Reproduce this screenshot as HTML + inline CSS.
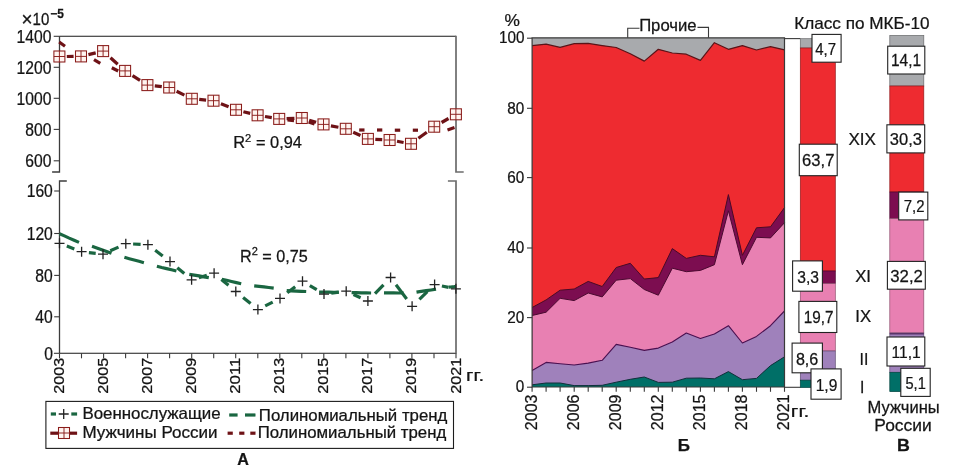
<!DOCTYPE html>
<html lang="ru"><head><meta charset="utf-8"><title>Chart</title>
<style>
html,body{margin:0;padding:0;background:#fff;}
body{width:955px;height:475px;overflow:hidden;}
svg{display:block;will-change:transform;font-family:"Liberation Sans",sans-serif;fill:#141414;}
svg text{fill:#141414;stroke:#141414;stroke-width:0.25px;}
</style></head><body>
<svg width="955" height="475" viewBox="0 0 955 475">
<rect x="0" y="0" width="955" height="475" fill="#ffffff"/>
<path d="M52.1,172.0 H59.5 V36.3" fill="none" stroke="#3c3c3c" stroke-width="1.3"/>
<path d="M59.5,36.3 H456.0" fill="none" stroke="#181818" stroke-width="1.05"/>
<path d="M456.0,35.8 V172.0 H463.7" fill="none" stroke="#6c6c6c" stroke-width="1.7"/>
<path d="M66.8,181.0 H59.5 V353.3" fill="none" stroke="#3c3c3c" stroke-width="1.3"/>
<path d="M59.5,353.3 H456.0" fill="none" stroke="#181818" stroke-width="1.05"/>
<path d="M447.9,181.0 H456.0 V353.8" fill="none" stroke="#6c6c6c" stroke-width="1.7"/>
<line x1="53.7" y1="36.3" x2="59.5" y2="36.3" stroke="#3a3a3a" stroke-width="1.1" />
<text transform="translate(16.59,42.60) scale(0.8800,1)" font-size="17.8">1400</text>
<line x1="53.7" y1="67.3" x2="59.5" y2="67.3" stroke="#3a3a3a" stroke-width="1.1" />
<text transform="translate(16.59,73.60) scale(0.8800,1)" font-size="17.8">1200</text>
<line x1="53.7" y1="98.3" x2="59.5" y2="98.3" stroke="#3a3a3a" stroke-width="1.1" />
<text transform="translate(16.59,104.60) scale(0.8800,1)" font-size="17.8">1000</text>
<line x1="53.7" y1="129.4" x2="59.5" y2="129.4" stroke="#3a3a3a" stroke-width="1.1" />
<text transform="translate(25.28,135.70) scale(0.8800,1)" font-size="17.8">800</text>
<line x1="53.7" y1="160.8" x2="59.5" y2="160.8" stroke="#3a3a3a" stroke-width="1.1" />
<text transform="translate(25.28,167.10) scale(0.8800,1)" font-size="17.8">600</text>
<line x1="54.2" y1="191.0" x2="59.5" y2="191.0" stroke="#3a3a3a" stroke-width="1.1" />
<text transform="translate(26.68,197.30) scale(0.8800,1)" font-size="17.8">160</text>
<line x1="54.2" y1="233.5" x2="59.5" y2="233.5" stroke="#3a3a3a" stroke-width="1.1" />
<text transform="translate(26.68,239.80) scale(0.8800,1)" font-size="17.8">120</text>
<line x1="54.2" y1="275.4" x2="59.5" y2="275.4" stroke="#3a3a3a" stroke-width="1.1" />
<text transform="translate(35.37,281.70) scale(0.8800,1)" font-size="17.8">80</text>
<line x1="54.2" y1="316.8" x2="59.5" y2="316.8" stroke="#3a3a3a" stroke-width="1.1" />
<text transform="translate(35.37,323.10) scale(0.8800,1)" font-size="17.8">40</text>
<line x1="53.9" y1="353.3" x2="59.5" y2="353.3" stroke="#3a3a3a" stroke-width="1.1" />
<text transform="translate(44.16,359.90) scale(0.8800,1)" font-size="17.8">0</text>
<line x1="59.5" y1="353.3" x2="59.5" y2="358.3" stroke="#3a3a3a" stroke-width="1.1" />
<text transform="translate(63.50,393.69) rotate(-90) scale(1.0504,1)" font-size="15.4">2003</text>
<line x1="81.5" y1="353.3" x2="81.5" y2="358.3" stroke="#3a3a3a" stroke-width="1.1" />
<line x1="103.6" y1="353.3" x2="103.6" y2="358.3" stroke="#3a3a3a" stroke-width="1.1" />
<text transform="translate(107.62,393.68) rotate(-90) scale(1.0464,1)" font-size="15.4">2005</text>
<line x1="125.6" y1="353.3" x2="125.6" y2="358.3" stroke="#3a3a3a" stroke-width="1.1" />
<line x1="147.6" y1="353.3" x2="147.6" y2="358.3" stroke="#3a3a3a" stroke-width="1.1" />
<text transform="translate(151.74,393.69) rotate(-90) scale(1.0504,1)" font-size="15.4">2007</text>
<line x1="169.6" y1="353.3" x2="169.6" y2="358.3" stroke="#3a3a3a" stroke-width="1.1" />
<line x1="191.7" y1="353.3" x2="191.7" y2="358.3" stroke="#3a3a3a" stroke-width="1.1" />
<text transform="translate(195.86,393.69) rotate(-90) scale(1.0504,1)" font-size="15.4">2009</text>
<line x1="213.7" y1="353.3" x2="213.7" y2="358.3" stroke="#3a3a3a" stroke-width="1.1" />
<line x1="235.7" y1="353.3" x2="235.7" y2="358.3" stroke="#3a3a3a" stroke-width="1.1" />
<text transform="translate(239.98,393.72) rotate(-90) scale(1.0877,1)" font-size="15.4">2011</text>
<line x1="257.8" y1="353.3" x2="257.8" y2="358.3" stroke="#3a3a3a" stroke-width="1.1" />
<line x1="279.8" y1="353.3" x2="279.8" y2="358.3" stroke="#3a3a3a" stroke-width="1.1" />
<text transform="translate(284.10,393.69) rotate(-90) scale(1.0504,1)" font-size="15.4">2013</text>
<line x1="301.8" y1="353.3" x2="301.8" y2="358.3" stroke="#3a3a3a" stroke-width="1.1" />
<line x1="323.8" y1="353.3" x2="323.8" y2="358.3" stroke="#3a3a3a" stroke-width="1.1" />
<text transform="translate(328.22,393.68) rotate(-90) scale(1.0464,1)" font-size="15.4">2015</text>
<line x1="345.9" y1="353.3" x2="345.9" y2="358.3" stroke="#3a3a3a" stroke-width="1.1" />
<line x1="367.9" y1="353.3" x2="367.9" y2="358.3" stroke="#3a3a3a" stroke-width="1.1" />
<text transform="translate(372.34,393.69) rotate(-90) scale(1.0504,1)" font-size="15.4">2017</text>
<line x1="389.9" y1="353.3" x2="389.9" y2="358.3" stroke="#3a3a3a" stroke-width="1.1" />
<line x1="411.9" y1="353.3" x2="411.9" y2="358.3" stroke="#3a3a3a" stroke-width="1.1" />
<text transform="translate(416.46,393.69) rotate(-90) scale(1.0504,1)" font-size="15.4">2019</text>
<line x1="434.0" y1="353.3" x2="434.0" y2="358.3" stroke="#3a3a3a" stroke-width="1.1" />
<line x1="456.0" y1="353.3" x2="456.0" y2="358.3" stroke="#3a3a3a" stroke-width="1.1" />
<text transform="translate(460.58,393.69) rotate(-90) scale(1.0504,1)" font-size="15.4">2021</text>
<text transform="translate(466.10,380.80) scale(1.2463,1)" font-size="16.3" font-weight="normal">гг.</text>
<text transform="translate(21.60,26.00) scale(0.9444,1)" font-size="20" font-weight="normal">×</text>
<text transform="translate(32.56,25.00) scale(0.9221,1)" font-size="16.3" font-weight="normal">10</text>
<text transform="translate(50.21,18.10) scale(0.9752,1)" font-size="12.2" font-weight="bold">−5</text>
<line x1="59.2" y1="42.0" x2="65.0" y2="46.2" stroke="#6e1216" stroke-width="3.2" />
<line x1="94.0" y1="59.6" x2="100.3" y2="63.4" stroke="#6e1216" stroke-width="3.2" />
<line x1="111.8" y1="67.8" x2="118.2" y2="71.0" stroke="#6e1216" stroke-width="3.2" />
<line x1="287.5" y1="120.0" x2="294.0" y2="120.6" stroke="#6e1216" stroke-width="3.2" />
<line x1="308.6" y1="122.0" x2="314.5" y2="124.0" stroke="#6e1216" stroke-width="3.2" />
<line x1="359.2" y1="130.0" x2="364.5" y2="130.0" stroke="#6e1216" stroke-width="3.2" />
<line x1="377.0" y1="130.0" x2="382.3" y2="130.0" stroke="#6e1216" stroke-width="3.2" />
<line x1="394.8" y1="130.2" x2="400.2" y2="130.2" stroke="#6e1216" stroke-width="3.2" />
<line x1="412.8" y1="130.2" x2="418.0" y2="130.2" stroke="#6e1216" stroke-width="3.2" />
<line x1="447.5" y1="130.0" x2="454.5" y2="127.6" stroke="#6e1216" stroke-width="3.2" />
<line x1="66.8" y1="56.5" x2="73.6" y2="56.4" stroke="#6e1216" stroke-width="3.2" />
<line x1="88.4" y1="54.6" x2="95.7" y2="52.9" stroke="#6e1216" stroke-width="3.2" />
<line x1="110.5" y1="57.8" x2="117.7" y2="64.2" stroke="#6e1216" stroke-width="3.2" />
<line x1="132.5" y1="75.6" x2="140.0" y2="80.4" stroke="#6e1216" stroke-width="3.2" />
<line x1="154.8" y1="85.9" x2="161.8" y2="86.7" stroke="#6e1216" stroke-width="3.2" />
<line x1="176.6" y1="91.2" x2="184.4" y2="95.1" stroke="#6e1216" stroke-width="3.2" />
<line x1="199.2" y1="99.4" x2="206.1" y2="100.1" stroke="#6e1216" stroke-width="3.2" />
<line x1="220.9" y1="103.7" x2="228.6" y2="106.8" stroke="#6e1216" stroke-width="3.2" />
<line x1="243.4" y1="111.7" x2="250.2" y2="113.4" stroke="#6e1216" stroke-width="3.2" />
<line x1="265.0" y1="116.5" x2="271.8" y2="117.7" stroke="#6e1216" stroke-width="3.2" />
<line x1="286.6" y1="118.6" x2="294.4" y2="118.3" stroke="#6e1216" stroke-width="3.2" />
<line x1="309.2" y1="120.2" x2="316.1" y2="122.2" stroke="#6e1216" stroke-width="3.2" />
<line x1="330.9" y1="125.9" x2="338.4" y2="127.3" stroke="#6e1216" stroke-width="3.2" />
<line x1="353.2" y1="132.2" x2="360.5" y2="135.5" stroke="#6e1216" stroke-width="3.2" />
<line x1="375.3" y1="139.3" x2="382.2" y2="139.6" stroke="#6e1216" stroke-width="3.2" />
<line x1="397.0" y1="141.3" x2="403.6" y2="142.5" stroke="#6e1216" stroke-width="3.2" />
<line x1="418.4" y1="138.3" x2="426.8" y2="132.2" stroke="#6e1216" stroke-width="3.2" />
<line x1="441.6" y1="122.5" x2="448.5" y2="118.5" stroke="#6e1216" stroke-width="3.2" />
<rect x="53.9" y="51.0" width="11.0" height="11.0" fill="#fff4f0" stroke="#8a1c1a" stroke-width="1.05"/>
<path d="M53.9,56.5 H64.9 M59.4,51.0 V62.0" stroke="#8a1c1a" stroke-width="0.95" fill="none"/>
<rect x="75.5" y="50.9" width="11.0" height="11.0" fill="#fff4f0" stroke="#8a1c1a" stroke-width="1.05"/>
<path d="M75.5,56.4 H86.5 M81.0,50.9 V61.9" stroke="#8a1c1a" stroke-width="0.95" fill="none"/>
<rect x="97.6" y="45.6" width="11.0" height="11.0" fill="#fff4f0" stroke="#8a1c1a" stroke-width="1.05"/>
<path d="M97.6,51.1 H108.6 M103.1,45.6 V56.6" stroke="#8a1c1a" stroke-width="0.95" fill="none"/>
<rect x="119.6" y="65.4" width="11.0" height="11.0" fill="#fff4f0" stroke="#8a1c1a" stroke-width="1.05"/>
<path d="M119.6,70.9 H130.6 M125.1,65.4 V76.4" stroke="#8a1c1a" stroke-width="0.95" fill="none"/>
<rect x="141.9" y="79.6" width="11.0" height="11.0" fill="#fff4f0" stroke="#8a1c1a" stroke-width="1.05"/>
<path d="M141.9,85.1 H152.9 M147.4,79.6 V90.6" stroke="#8a1c1a" stroke-width="0.95" fill="none"/>
<rect x="163.7" y="82.0" width="11.0" height="11.0" fill="#fff4f0" stroke="#8a1c1a" stroke-width="1.05"/>
<path d="M163.7,87.5 H174.7 M169.2,82.0 V93.0" stroke="#8a1c1a" stroke-width="0.95" fill="none"/>
<rect x="186.3" y="93.3" width="11.0" height="11.0" fill="#fff4f0" stroke="#8a1c1a" stroke-width="1.05"/>
<path d="M186.3,98.8 H197.3 M191.8,93.3 V104.3" stroke="#8a1c1a" stroke-width="0.95" fill="none"/>
<rect x="208.0" y="95.2" width="11.0" height="11.0" fill="#fff4f0" stroke="#8a1c1a" stroke-width="1.05"/>
<path d="M208.0,100.7 H219.0 M213.5,95.2 V106.2" stroke="#8a1c1a" stroke-width="0.95" fill="none"/>
<rect x="230.5" y="104.3" width="11.0" height="11.0" fill="#fff4f0" stroke="#8a1c1a" stroke-width="1.05"/>
<path d="M230.5,109.8 H241.5 M236.0,104.3 V115.3" stroke="#8a1c1a" stroke-width="0.95" fill="none"/>
<rect x="252.1" y="109.8" width="11.0" height="11.0" fill="#fff4f0" stroke="#8a1c1a" stroke-width="1.05"/>
<path d="M252.1,115.3 H263.1 M257.6,109.8 V120.8" stroke="#8a1c1a" stroke-width="0.95" fill="none"/>
<rect x="273.7" y="113.4" width="11.0" height="11.0" fill="#fff4f0" stroke="#8a1c1a" stroke-width="1.05"/>
<path d="M273.7,118.9 H284.7 M279.2,113.4 V124.4" stroke="#8a1c1a" stroke-width="0.95" fill="none"/>
<rect x="296.3" y="112.5" width="11.0" height="11.0" fill="#fff4f0" stroke="#8a1c1a" stroke-width="1.05"/>
<path d="M296.3,118.0 H307.3 M301.8,112.5 V123.5" stroke="#8a1c1a" stroke-width="0.95" fill="none"/>
<rect x="318.0" y="118.9" width="11.0" height="11.0" fill="#fff4f0" stroke="#8a1c1a" stroke-width="1.05"/>
<path d="M318.0,124.4 H329.0 M323.5,118.9 V129.9" stroke="#8a1c1a" stroke-width="0.95" fill="none"/>
<rect x="340.3" y="123.3" width="11.0" height="11.0" fill="#fff4f0" stroke="#8a1c1a" stroke-width="1.05"/>
<path d="M340.3,128.8 H351.3 M345.8,123.3 V134.3" stroke="#8a1c1a" stroke-width="0.95" fill="none"/>
<rect x="362.4" y="133.4" width="11.0" height="11.0" fill="#fff4f0" stroke="#8a1c1a" stroke-width="1.05"/>
<path d="M362.4,138.9 H373.4 M367.9,133.4 V144.4" stroke="#8a1c1a" stroke-width="0.95" fill="none"/>
<rect x="384.1" y="134.5" width="11.0" height="11.0" fill="#fff4f0" stroke="#8a1c1a" stroke-width="1.05"/>
<path d="M384.1,140.0 H395.1 M389.6,134.5 V145.5" stroke="#8a1c1a" stroke-width="0.95" fill="none"/>
<rect x="405.5" y="138.3" width="11.0" height="11.0" fill="#fff4f0" stroke="#8a1c1a" stroke-width="1.05"/>
<path d="M405.5,143.8 H416.5 M411.0,138.3 V149.3" stroke="#8a1c1a" stroke-width="0.95" fill="none"/>
<rect x="428.7" y="121.2" width="11.0" height="11.0" fill="#fff4f0" stroke="#8a1c1a" stroke-width="1.05"/>
<path d="M428.7,126.7 H439.7 M434.2,121.2 V132.2" stroke="#8a1c1a" stroke-width="0.95" fill="none"/>
<rect x="450.4" y="108.8" width="11.0" height="11.0" fill="#fff4f0" stroke="#8a1c1a" stroke-width="1.05"/>
<path d="M450.4,114.3 H461.4 M455.9,108.8 V119.8" stroke="#8a1c1a" stroke-width="0.95" fill="none"/>
<g transform="translate(233.34,148.20) scale(1.0057,1)"><text font-size="16.3">R</text><text x="11.73" y="-6.3" font-size="11.08">2</text><text x="17.92" font-size="16.3" xml:space="preserve"> = 0,94</text></g>
<polyline points="59.5,233.8 64.4,235.9 69.2,238.1 74.1,240.2 79.0,242.4" fill="none" stroke="#1a6641" stroke-width="3.2"/>
<polyline points="92.0,246.2 96.8,247.9 101.7,249.8 106.6,251.6 111.5,253.3" fill="none" stroke="#1a6641" stroke-width="3.2"/>
<polyline points="124.4,257.3 129.3,258.7 134.2,260.0 139.0,261.3 143.9,262.7" fill="none" stroke="#1a6641" stroke-width="3.2"/>
<polyline points="156.9,266.2 161.7,267.5 166.6,268.6 171.5,269.8 176.4,271.0" fill="none" stroke="#1a6641" stroke-width="3.2"/>
<polyline points="189.3,274.3 194.2,275.1 199.1,275.9 203.9,276.8 208.8,277.6" fill="none" stroke="#1a6641" stroke-width="3.2"/>
<polyline points="221.8,279.2 226.6,280.3 231.5,281.5 236.4,282.6 241.2,283.7" fill="none" stroke="#1a6641" stroke-width="3.2"/>
<polyline points="254.2,285.9 259.1,286.4 264.0,286.9 268.8,287.5 273.7,288.1" fill="none" stroke="#1a6641" stroke-width="3.2"/>
<polyline points="286.7,290.6 291.5,290.8 296.4,291.1 301.3,291.3 306.2,291.5" fill="none" stroke="#1a6641" stroke-width="3.2"/>
<polyline points="319.1,292.1 324.0,292.2 328.9,292.2 333.7,292.3 338.6,292.3" fill="none" stroke="#1a6641" stroke-width="3.2"/>
<polyline points="351.6,292.6 356.4,292.7 361.3,292.8 366.2,292.9 371.1,293.0" fill="none" stroke="#1a6641" stroke-width="3.2"/>
<polyline points="384.0,292.8 388.9,292.9 393.8,292.9 398.6,293.0 403.5,292.9" fill="none" stroke="#1a6641" stroke-width="3.2"/>
<polyline points="416.5,292.2 421.3,291.4 426.2,290.7 431.1,290.0 436.0,289.2" fill="none" stroke="#1a6641" stroke-width="3.2"/>
<polyline points="448.9,287.1 450.7,287.0 452.4,286.8 454.1,286.7 455.9,286.5" fill="none" stroke="#1a6641" stroke-width="3.2"/>
<line x1="66.8" y1="246.1" x2="74.3" y2="248.9" stroke="#1a6641" stroke-width="3.2" />
<line x1="88.9" y1="252.6" x2="95.7" y2="253.3" stroke="#1a6641" stroke-width="3.2" />
<line x1="110.3" y1="250.8" x2="118.5" y2="247.1" stroke="#1a6641" stroke-width="3.2" />
<line x1="133.1" y1="244.0" x2="140.6" y2="244.4" stroke="#1a6641" stroke-width="3.2" />
<line x1="155.2" y1="250.3" x2="162.7" y2="256.0" stroke="#1a6641" stroke-width="3.2" />
<line x1="177.3" y1="267.8" x2="184.3" y2="273.6" stroke="#1a6641" stroke-width="3.2" />
<line x1="198.9" y1="277.7" x2="206.8" y2="275.3" stroke="#1a6641" stroke-width="3.2" />
<line x1="221.4" y1="279.4" x2="228.5" y2="285.3" stroke="#1a6641" stroke-width="3.2" />
<line x1="243.1" y1="297.5" x2="250.6" y2="303.6" stroke="#1a6641" stroke-width="3.2" />
<line x1="265.2" y1="305.9" x2="272.7" y2="302.1" stroke="#1a6641" stroke-width="3.2" />
<line x1="287.3" y1="292.8" x2="295.2" y2="286.8" stroke="#1a6641" stroke-width="3.2" />
<line x1="309.8" y1="285.6" x2="316.7" y2="289.7" stroke="#1a6641" stroke-width="3.2" />
<line x1="331.3" y1="293.1" x2="338.9" y2="292.2" stroke="#1a6641" stroke-width="3.2" />
<line x1="353.5" y1="294.5" x2="360.6" y2="297.7" stroke="#1a6641" stroke-width="3.2" />
<line x1="375.0" y1="293.7" x2="383.5" y2="284.8" stroke="#1a6641" stroke-width="3.2" />
<line x1="396.0" y1="284.8" x2="406.7" y2="299.0" stroke="#1a6641" stroke-width="3.2" />
<line x1="419.4" y1="299.3" x2="427.3" y2="291.6" stroke="#1a6641" stroke-width="3.2" />
<line x1="441.9" y1="286.0" x2="448.6" y2="287.4" stroke="#1a6641" stroke-width="3.2" />
<path d="M54.5,243.3 H64.5 M59.5,238.3 V248.3" stroke="#222" stroke-width="1.3" fill="none"/>
<path d="M76.6,251.7 H86.6 M81.6,246.7 V256.7" stroke="#222" stroke-width="1.3" fill="none"/>
<path d="M98.0,254.2 H108.0 M103.0,249.2 V259.2" stroke="#222" stroke-width="1.3" fill="none"/>
<path d="M120.8,243.7 H130.8 M125.8,238.7 V248.7" stroke="#222" stroke-width="1.3" fill="none"/>
<path d="M142.9,244.7 H152.9 M147.9,239.7 V249.7" stroke="#222" stroke-width="1.3" fill="none"/>
<path d="M165.0,261.6 H175.0 M170.0,256.6 V266.6" stroke="#222" stroke-width="1.3" fill="none"/>
<path d="M186.6,279.8 H196.6 M191.6,274.8 V284.8" stroke="#222" stroke-width="1.3" fill="none"/>
<path d="M209.1,273.2 H219.1 M214.1,268.2 V278.2" stroke="#222" stroke-width="1.3" fill="none"/>
<path d="M230.8,291.5 H240.8 M235.8,286.5 V296.5" stroke="#222" stroke-width="1.3" fill="none"/>
<path d="M252.9,309.6 H262.9 M257.9,304.6 V314.6" stroke="#222" stroke-width="1.3" fill="none"/>
<path d="M275.0,298.4 H285.0 M280.0,293.4 V303.4" stroke="#222" stroke-width="1.3" fill="none"/>
<path d="M297.5,281.2 H307.5 M302.5,276.2 V286.2" stroke="#222" stroke-width="1.3" fill="none"/>
<path d="M319.0,294.1 H329.0 M324.0,289.1 V299.1" stroke="#222" stroke-width="1.3" fill="none"/>
<path d="M341.2,291.2 H351.2 M346.2,286.2 V296.2" stroke="#222" stroke-width="1.3" fill="none"/>
<path d="M362.9,301.0 H372.9 M367.9,296.0 V306.0" stroke="#222" stroke-width="1.3" fill="none"/>
<path d="M385.6,277.5 H395.6 M390.6,272.5 V282.5" stroke="#222" stroke-width="1.3" fill="none"/>
<path d="M407.1,306.3 H417.1 M412.1,301.3 V311.3" stroke="#222" stroke-width="1.3" fill="none"/>
<path d="M429.6,284.6 H439.6 M434.6,279.6 V289.6" stroke="#222" stroke-width="1.3" fill="none"/>
<path d="M450.9,288.8 H460.9 M455.9,283.8 V293.8" stroke="#222" stroke-width="1.3" fill="none"/>
<g transform="translate(240.06,261.50) scale(0.9944,1)"><text font-size="16.3">R</text><text x="11.73" y="-6.3" font-size="11.08">2</text><text x="17.92" font-size="16.3" xml:space="preserve"> = 0,75</text></g>
<rect x="45.9" y="401.4" width="407.6" height="47" fill="#fff" stroke="#1c1c1c" stroke-width="1.1"/>
<line x1="50.8" y1="414.0" x2="56.0" y2="414.0" stroke="#1a6641" stroke-width="3.2" />
<line x1="71.3" y1="414.0" x2="77.1" y2="414.0" stroke="#1a6641" stroke-width="3.2" />
<path d="M58.7,414 H68.7 M63.7,409 V419" stroke="#222" stroke-width="1.3" fill="none"/>
<text transform="translate(82.41,418.50) scale(1.0354,1)" font-size="16.3" font-weight="normal">Военнослужащие</text>
<line x1="229.2" y1="415.0" x2="237.6" y2="415.0" stroke="#1a6641" stroke-width="3.2" />
<line x1="245.0" y1="415.0" x2="255.5" y2="415.0" stroke="#1a6641" stroke-width="3.2" />
<text transform="translate(258.81,421.00) scale(1.0311,1)" font-size="16.3" font-weight="normal">Полиномиальный тренд</text>
<line x1="50.3" y1="433.2" x2="77.1" y2="433.2" stroke="#6e1216" stroke-width="3.2" />
<rect x="58.5" y="427.5" width="11.0" height="11.0" fill="#fff4f0" stroke="#8a1c1a" stroke-width="1.05"/>
<path d="M58.5,433.0 H69.5 M64.0,427.5 V438.5" stroke="#8a1c1a" stroke-width="0.95" fill="none"/>
<text transform="translate(82.39,437.90) scale(1.0448,1)" font-size="16.3" font-weight="normal">Мужчины России</text>
<line x1="227.6" y1="433.2" x2="232.8" y2="433.2" stroke="#6e1216" stroke-width="3.2" />
<line x1="239.2" y1="433.2" x2="244.4" y2="433.2" stroke="#6e1216" stroke-width="3.2" />
<line x1="250.3" y1="433.2" x2="255.5" y2="433.2" stroke="#6e1216" stroke-width="3.2" />
<text transform="translate(257.71,437.90) scale(1.0311,1)" font-size="16.3" font-weight="normal">Полиномиальный тренд</text>
<text transform="translate(237.24,465.30) scale(0.9478,1)" font-size="17" font-weight="bold">А</text>
<rect x="532.1" y="37.8" width="252.4" height="349.2" fill="#a8aaad"/>
<polygon points="532.1,387.0 532.1,45.6 546.1,44.2 560.1,47.4 574.2,43.7 588.2,43.4 602.2,45.6 616.2,47.5 630.3,53.7 644.3,61.1 658.3,49.3 672.3,53.0 686.3,54.2 700.4,60.4 714.4,42.7 728.4,49.3 742.4,45.6 756.5,50.0 770.5,46.7 784.5,49.8 784.5,387.0" fill="#ee2b30" stroke="none"/>
<polygon points="532.1,387.0 532.1,307.5 546.1,299.9 560.1,290.2 574.2,289.0 588.2,281.4 602.2,286.5 616.2,267.5 630.3,263.3 644.3,279.0 658.3,277.6 672.3,248.6 686.3,258.4 700.4,255.3 714.4,256.8 728.4,194.6 742.4,255.3 756.5,227.8 770.5,226.8 784.5,207.6 784.5,387.0" fill="#7c0d50" stroke="none"/>
<polygon points="532.1,387.0 532.1,315.5 546.1,312.2 560.1,298.3 574.2,300.6 588.2,293.0 602.2,296.9 616.2,280.2 630.3,278.6 644.3,289.5 658.3,295.2 672.3,268.2 686.3,271.7 700.4,270.4 714.4,264.7 728.4,210.8 742.4,264.7 756.5,237.3 770.5,237.9 784.5,222.7 784.5,387.0" fill="#e880b2" stroke="none"/>
<polygon points="532.1,387.0 532.1,370.4 546.1,362.4 560.1,363.7 574.2,365.0 588.2,363.1 602.2,360.3 616.2,344.4 630.3,347.3 644.3,350.4 658.3,348.1 672.3,342.0 686.3,333.0 700.4,338.5 714.4,334.0 728.4,325.7 742.4,343.0 756.5,336.4 770.5,325.7 784.5,311.0 784.5,387.0" fill="#9f81bb" stroke="none"/>
<polygon points="532.1,387.0 532.1,384.8 546.1,383.0 560.1,383.0 574.2,385.6 588.2,385.6 602.2,385.3 616.2,382.2 630.3,379.3 644.3,377.0 658.3,382.4 672.3,382.2 686.3,378.2 700.4,378.0 714.4,378.8 728.4,371.6 742.4,379.7 756.5,378.4 770.5,365.6 784.5,356.8 784.5,387.0" fill="#006f67" stroke="none"/>
<polyline points="532.1,45.6 546.1,44.2 560.1,47.4 574.2,43.7 588.2,43.4 602.2,45.6 616.2,47.5 630.3,53.7 644.3,61.1 658.3,49.3 672.3,53.0 686.3,54.2 700.4,60.4 714.4,42.7 728.4,49.3 742.4,45.6 756.5,50.0 770.5,46.7 784.5,49.8" fill="none" stroke="#5a1418" stroke-width="1.2" stroke-linejoin="round"/>
<polyline points="532.1,307.5 546.1,299.9 560.1,290.2 574.2,289.0 588.2,281.4 602.2,286.5 616.2,267.5 630.3,263.3 644.3,279.0 658.3,277.6 672.3,248.6 686.3,258.4 700.4,255.3 714.4,256.8 728.4,194.6 742.4,255.3 756.5,227.8 770.5,226.8 784.5,207.6" fill="none" stroke="#4a0a25" stroke-width="1.0" stroke-linejoin="round"/>
<polyline points="532.1,315.5 546.1,312.2 560.1,298.3 574.2,300.6 588.2,293.0 602.2,296.9 616.2,280.2 630.3,278.6 644.3,289.5 658.3,295.2 672.3,268.2 686.3,271.7 700.4,270.4 714.4,264.7 728.4,210.8 742.4,264.7 756.5,237.3 770.5,237.9 784.5,222.7" fill="none" stroke="#4a0a30" stroke-width="1.0" stroke-linejoin="round"/>
<polyline points="532.1,370.4 546.1,362.4 560.1,363.7 574.2,365.0 588.2,363.1 602.2,360.3 616.2,344.4 630.3,347.3 644.3,350.4 658.3,348.1 672.3,342.0 686.3,333.0 700.4,338.5 714.4,334.0 728.4,325.7 742.4,343.0 756.5,336.4 770.5,325.7 784.5,311.0" fill="none" stroke="#4a1050" stroke-width="1.1" stroke-linejoin="round"/>
<polyline points="532.1,384.8 546.1,383.0 560.1,383.0 574.2,385.6 588.2,385.6 602.2,385.3 616.2,382.2 630.3,379.3 644.3,377.0 658.3,382.4 672.3,382.2 686.3,378.2 700.4,378.0 714.4,378.8 728.4,371.6 742.4,379.7 756.5,378.4 770.5,365.6 784.5,356.8" fill="none" stroke="#10303a" stroke-width="1.0" stroke-linejoin="round"/>
<path d="M532.1,37.8 V387.0 H784.5 V37.8 Z" fill="none" stroke="#3a3a3a" stroke-width="1.2"/>
<line x1="784.5" y1="38.6" x2="800.5" y2="38.6" stroke="#3a3a3a" stroke-width="1.1" />
<line x1="784.5" y1="387.3" x2="800.5" y2="387.3" stroke="#3a3a3a" stroke-width="1.1" />
<line x1="527.0" y1="38.2" x2="532.1" y2="38.2" stroke="#3a3a3a" stroke-width="1.1" />
<text transform="translate(498.89,43.40) scale(0.9100,1)" font-size="16.8">100</text>
<line x1="527.0" y1="108.3" x2="532.1" y2="108.3" stroke="#3a3a3a" stroke-width="1.1" />
<text transform="translate(507.31,113.50) scale(0.9100,1)" font-size="16.8">80</text>
<line x1="527.0" y1="177.6" x2="532.1" y2="177.6" stroke="#3a3a3a" stroke-width="1.1" />
<text transform="translate(507.31,182.80) scale(0.9100,1)" font-size="16.8">60</text>
<line x1="527.0" y1="248.0" x2="532.1" y2="248.0" stroke="#3a3a3a" stroke-width="1.1" />
<text transform="translate(507.31,253.20) scale(0.9100,1)" font-size="16.8">40</text>
<line x1="527.0" y1="317.6" x2="532.1" y2="317.6" stroke="#3a3a3a" stroke-width="1.1" />
<text transform="translate(507.31,322.80) scale(0.9100,1)" font-size="16.8">20</text>
<line x1="527.0" y1="387.2" x2="532.1" y2="387.2" stroke="#3a3a3a" stroke-width="1.1" />
<text transform="translate(515.84,392.40) scale(0.9100,1)" font-size="16.8">0</text>
<text transform="translate(504.39,25.60) scale(1.0195,1)" font-size="17.0" font-weight="normal">%</text>
<line x1="532.1" y1="387.0" x2="532.1" y2="391.8" stroke="#3a3a3a" stroke-width="1.1" />
<text transform="translate(537.00,430.14) rotate(-90) scale(0.9813,1)" font-size="16.3">2003</text>
<line x1="546.1" y1="387.0" x2="546.1" y2="391.8" stroke="#3a3a3a" stroke-width="1.1" />
<line x1="560.1" y1="387.0" x2="560.1" y2="391.8" stroke="#3a3a3a" stroke-width="1.1" />
<line x1="574.2" y1="387.0" x2="574.2" y2="391.8" stroke="#3a3a3a" stroke-width="1.1" />
<text transform="translate(579.07,430.14) rotate(-90) scale(0.9813,1)" font-size="16.3">2006</text>
<line x1="588.2" y1="387.0" x2="588.2" y2="391.8" stroke="#3a3a3a" stroke-width="1.1" />
<line x1="602.2" y1="387.0" x2="602.2" y2="391.8" stroke="#3a3a3a" stroke-width="1.1" />
<line x1="616.2" y1="387.0" x2="616.2" y2="391.8" stroke="#3a3a3a" stroke-width="1.1" />
<text transform="translate(621.13,430.14) rotate(-90) scale(0.9813,1)" font-size="16.3">2009</text>
<line x1="630.3" y1="387.0" x2="630.3" y2="391.8" stroke="#3a3a3a" stroke-width="1.1" />
<line x1="644.3" y1="387.0" x2="644.3" y2="391.8" stroke="#3a3a3a" stroke-width="1.1" />
<line x1="658.3" y1="387.0" x2="658.3" y2="391.8" stroke="#3a3a3a" stroke-width="1.1" />
<text transform="translate(663.20,430.14) rotate(-90) scale(0.9848,1)" font-size="16.3">2012</text>
<line x1="672.3" y1="387.0" x2="672.3" y2="391.8" stroke="#3a3a3a" stroke-width="1.1" />
<line x1="686.3" y1="387.0" x2="686.3" y2="391.8" stroke="#3a3a3a" stroke-width="1.1" />
<line x1="700.4" y1="387.0" x2="700.4" y2="391.8" stroke="#3a3a3a" stroke-width="1.1" />
<text transform="translate(705.27,430.14) rotate(-90) scale(0.9813,1)" font-size="16.3">2015</text>
<line x1="714.4" y1="387.0" x2="714.4" y2="391.8" stroke="#3a3a3a" stroke-width="1.1" />
<line x1="728.4" y1="387.0" x2="728.4" y2="391.8" stroke="#3a3a3a" stroke-width="1.1" />
<line x1="742.4" y1="387.0" x2="742.4" y2="391.8" stroke="#3a3a3a" stroke-width="1.1" />
<text transform="translate(747.33,430.14) rotate(-90) scale(0.9813,1)" font-size="16.3">2018</text>
<line x1="756.5" y1="387.0" x2="756.5" y2="391.8" stroke="#3a3a3a" stroke-width="1.1" />
<line x1="770.5" y1="387.0" x2="770.5" y2="391.8" stroke="#3a3a3a" stroke-width="1.1" />
<line x1="784.5" y1="387.0" x2="784.5" y2="391.8" stroke="#3a3a3a" stroke-width="1.1" />
<text transform="translate(789.40,430.14) rotate(-90) scale(0.9848,1)" font-size="16.3">2021</text>
<text transform="translate(790.78,417.00) scale(1.2667,1)" font-size="16.5" font-weight="normal">гг.</text>
<text transform="translate(639.14,30.80) scale(1.0059,1)" font-size="16.6" font-weight="normal">Прочие</text>
<path d="M627.7,37.8 V28.2 H639.5 M697.5,27.4 H708.5 V37.8" fill="none" stroke="#3a3a3a" stroke-width="1.1"/>
<text transform="translate(677.77,450.60) scale(1.0000,1)" font-size="17" font-weight="bold">Б</text>
<text transform="translate(794.24,28.90) scale(0.9858,1)" font-size="17.4" font-weight="normal">Класс по МКБ-10</text>
<rect x="800.3" y="38.7" width="35.0" height="9.3" fill="#a8aaad" stroke="#68696b" stroke-width="0.7"/>
<rect x="800.3" y="48.0" width="35.0" height="223.0" fill="#ee2b30" stroke="#931a1d" stroke-width="0.7"/>
<rect x="800.3" y="271.0" width="35.0" height="12.6" fill="#7c0d50" stroke="#4c0831" stroke-width="0.7"/>
<rect x="800.3" y="283.6" width="35.0" height="67.4" fill="#e880b2" stroke="#8f4f6e" stroke-width="0.7"/>
<rect x="800.3" y="351.0" width="35.0" height="29.2" fill="#9f81bb" stroke="#624f73" stroke-width="0.7"/>
<rect x="800.3" y="380.2" width="35.0" height="7.3" fill="#006f67" stroke="#00443f" stroke-width="0.7"/>
<rect x="889.8" y="35.4" width="34.0" height="50.6" fill="#a8aaad" stroke="#68696b" stroke-width="0.7"/>
<rect x="889.8" y="86.0" width="34.0" height="106.0" fill="#ee2b30" stroke="#931a1d" stroke-width="0.7"/>
<rect x="889.8" y="192.0" width="34.0" height="26.6" fill="#7c0d50" stroke="#4c0831" stroke-width="0.7"/>
<rect x="889.8" y="218.6" width="34.0" height="114.4" fill="#e880b2" stroke="#8f4f6e" stroke-width="0.7"/>
<rect x="889.8" y="333.0" width="34.0" height="39.3" fill="#9f81bb" stroke="#624f73" stroke-width="0.7"/>
<rect x="889.8" y="372.3" width="34.0" height="19.3" fill="#006f67" stroke="#00443f" stroke-width="0.7"/>
<line x1="889.8" y1="333.7" x2="923.8" y2="333.7" stroke="#5a3468" stroke-width="1.4" />
<rect x="812.0" y="34.4" width="29.1" height="27.8" fill="#fff" stroke="#222" stroke-width="1.1"/>
<text transform="translate(815.18,55.00) scale(0.8609,1)" font-size="17.4" font-weight="normal">4,7</text>
<rect x="799.3" y="144.2" width="37.9" height="31.5" fill="#fff" stroke="#222" stroke-width="1.1"/>
<text transform="translate(802.06,166.30) scale(0.9556,1)" font-size="17.4" font-weight="normal">63,7</text>
<rect x="792.6" y="260.9" width="29.8" height="30.3" fill="#fff" stroke="#222" stroke-width="1.1"/>
<text transform="translate(797.24,283.00) scale(0.9005,1)" font-size="17.4" font-weight="normal">3,3</text>
<rect x="798.9" y="301.4" width="37.9" height="31.1" fill="#fff" stroke="#222" stroke-width="1.1"/>
<text transform="translate(803.80,322.80) scale(0.8787,1)" font-size="17.4" font-weight="normal">19,7</text>
<rect x="792.1" y="343.1" width="30.3" height="29.7" fill="#fff" stroke="#222" stroke-width="1.1"/>
<text transform="translate(795.90,365.20) scale(0.9275,1)" font-size="17.4" font-weight="normal">8,6</text>
<rect x="811.0" y="368.9" width="30.1" height="30.3" fill="#fff" stroke="#222" stroke-width="1.1"/>
<text transform="translate(815.68,391.00) scale(0.8949,1)" font-size="17.4" font-weight="normal">1,9</text>
<rect x="887.7" y="46.2" width="37.1" height="27.8" fill="#fff" stroke="#222" stroke-width="1.1"/>
<text transform="translate(890.99,65.50) scale(0.8882,1)" font-size="17.4" font-weight="normal">14,1</text>
<rect x="886.9" y="124.8" width="37.8" height="28.1" fill="#fff" stroke="#222" stroke-width="1.1"/>
<text transform="translate(889.81,145.20) scale(0.9477,1)" font-size="17.4" font-weight="normal">30,3</text>
<rect x="898.7" y="192.1" width="29.1" height="27.8" fill="#fff" stroke="#222" stroke-width="1.1"/>
<text transform="translate(903.75,211.50) scale(0.8578,1)" font-size="17.4" font-weight="normal">7,2</text>
<rect x="887.4" y="261.4" width="37.9" height="27.8" fill="#fff" stroke="#222" stroke-width="1.1"/>
<text transform="translate(890.30,281.80) scale(0.9637,1)" font-size="17.4" font-weight="normal">32,2</text>
<rect x="887.0" y="337.0" width="37.8" height="29.0" fill="#fff" stroke="#222" stroke-width="1.1"/>
<text transform="translate(891.48,358.20) scale(0.8984,1)" font-size="17.4" font-weight="normal">11,1</text>
<rect x="900.8" y="368.3" width="29.4" height="28.1" fill="#fff" stroke="#222" stroke-width="1.1"/>
<text transform="translate(905.48,389.20) scale(0.8396,1)" font-size="17.4" font-weight="normal">5,1</text>
<text transform="translate(848.43,144.90) scale(0.9917,1)" font-size="17.2" font-weight="normal">XIX</text>
<text transform="translate(855.13,282.40) scale(0.9739,1)" font-size="17.2" font-weight="normal">XI</text>
<text transform="translate(855.24,321.50) scale(0.9724,1)" font-size="17.2" font-weight="normal">IX</text>
<text transform="translate(859.62,365.20) scale(0.9231,1)" font-size="17.2" font-weight="normal">II</text>
<text transform="translate(859.93,393.00) scale(0.9143,1)" font-size="17.2" font-weight="normal">I</text>
<text transform="translate(867.55,413.00) scale(0.9964,1)" font-size="16.6" font-weight="normal">Мужчины</text>
<text transform="translate(874.29,430.90) scale(1.0495,1)" font-size="16.6" font-weight="normal">России</text>
<text transform="translate(896.92,451.10) scale(1.0476,1)" font-size="17" font-weight="bold">В</text>
</svg>
</body></html>
